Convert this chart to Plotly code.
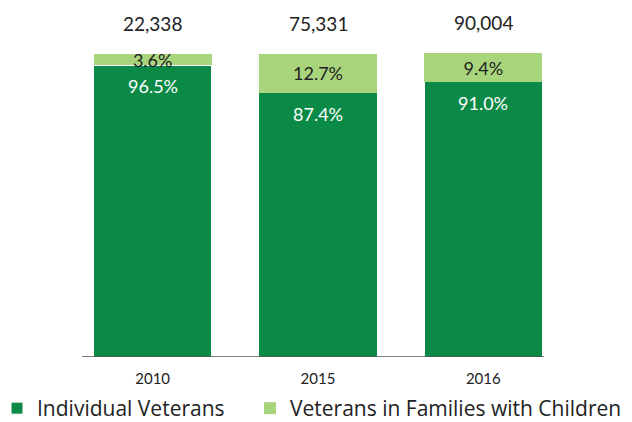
import plotly.graph_objects as go

years = ["2010", "2015", "2016"]
individual = [96.5, 87.4, 91.0]
families = [3.6, 12.7, 9.4]
totals = ["22,338", "75,331", "90,004"]

DARK = "#0b8a47"
LIGHT = "#a8d47c"
FONT = "Lato"

W, H = 632, 422
ML, MR, MT, MB = 70, 0, 53, 65
PW = W - ML - MR
PH = H - MT - MB
DOMAIN_END = 496 / PW

fig = go.Figure()
fig.add_trace(go.Bar(
    x=years, y=individual, name="Individual Veterans",
    marker=dict(color=DARK, line=dict(color="white", width=1)),
    legendwidth=208,
    hoverinfo="skip",
))
fig.add_trace(go.Bar(
    x=years, y=families, name="Veterans in Families with Children",
    marker=dict(color=LIGHT, line=dict(color="white", width=0)),
    text=[f"{v:.1f}%" for v in families],
    textposition="inside", insidetextanchor="middle",
    textfont=dict(color="#222222", size=18, family=FONT),
    hoverinfo="skip",
))

# category axis: annotations positioned by category index
for i, (ind, fam, tot) in enumerate(zip(individual, families, totals)):
    fig.add_annotation(x=i, y=ind + fam, xref="x", yref="y", text=tot, showarrow=False,
                       yanchor="bottom", yshift=17,
                       font=dict(size=19, color="#222222", family=FONT))
    fig.add_annotation(x=i, y=ind, xref="x", yref="y", text=f"{ind:.1f}%", showarrow=False,
                       yanchor="middle", yshift=-21,
                       font=dict(size=18, color="white", family=FONT))

fig.add_shape(type="line", xref="paper", yref="y",
              x0=(82 - ML) / PW, x1=(544 - ML) / PW, y0=0, y1=0,
              line=dict(color="#555555", width=1.5))

fig.update_layout(
    barmode="stack",
    bargap=0.285,
    width=W, height=H,
    margin=dict(l=ML, r=MR, t=MT, b=MB, pad=0, autoexpand=False),
    paper_bgcolor="white", plot_bgcolor="white",
    uniformtext=dict(minsize=18, mode="show"),
    font=dict(family=FONT, color="#222222"),
    xaxis=dict(type="category", domain=[0, DOMAIN_END], range=[-0.5, 2.5],
               showline=False, showgrid=False, ticks="", ticklabelstandoff=11,
               tickfont=dict(size=15, family=FONT, color="#222222")),
    yaxis=dict(range=[0, 100.5], visible=False, showgrid=False),
    legend=dict(orientation="h", x=(-3 - ML) / PW, xanchor="left", y=-(388 - (H - MB)) / PH,
                yanchor="top",
                font=dict(size=21, family="Open Sans", color="#222222"),
                traceorder="normal"),
    showlegend=True,
)

fig.write_html("out.html", config={"displayModeBar": False},
               post_script="document.body.style.margin='0';document.body.style.padding='0';")
